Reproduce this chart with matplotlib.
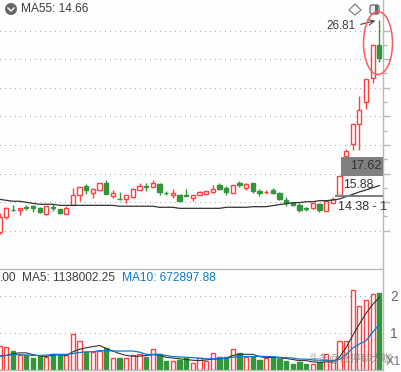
import matplotlib
matplotlib.use('Agg')
import matplotlib.pyplot as plt
from matplotlib.patches import Ellipse, FancyBboxPatch, Polygon, Rectangle, Circle

opens = [12.74,13.72,14.20,14.16,14.36,14.45,14.29,13.94,14.36,14.22,13.94,14.49,15.15,15.77,15.33,15.53,15.97,15.13,14.93,14.93,
         15.07,15.53,15.77,15.73,15.91,15.33,15.20,15.15,15.18,15.00,15.20,15.22,15.40,15.86,15.66,15.33,15.97,15.66,15.97,15.47,
         15.35,15.51,15.31,14.84,14.62,14.51,14.29,14.34,14.56,14.14,14.67,15.20,17.75,18.54,19.87,21.33,22.93,25.12]
closes = [13.72,14.31,14.16,14.29,14.29,14.31,14.05,14.45,14.29,13.98,14.29,15.15,15.69,15.53,15.55,15.95,15.24,15.29,14.89,15.15,
          15.55,15.75,15.73,15.95,15.40,15.29,15.29,14.80,15.13,15.15,15.38,15.42,15.55,15.55,15.35,15.82,15.86,15.89,15.47,15.29,
          15.40,15.31,14.91,14.62,14.53,14.20,14.25,14.62,14.18,14.76,14.93,16.42,18.10,19.87,20.80,22.86,25.12,24.30]
highs = [13.96,14.40,14.51,14.29,14.51,14.51,14.40,14.45,14.56,14.22,14.47,15.64,15.69,15.91,15.64,15.95,16.17,15.51,15.38,15.15,
         15.66,15.97,15.97,16.17,15.95,15.44,15.58,15.24,15.58,15.15,15.47,15.42,15.86,15.95,15.77,15.82,16.11,15.95,15.97,15.60,
         15.53,15.64,15.35,15.04,14.71,14.62,14.40,14.67,14.62,14.84,15.02,16.42,18.23,19.87,21.76,22.86,25.12,26.81]
lows = [12.61,13.58,14.11,13.85,14.18,14.05,13.98,13.85,14.09,13.91,13.94,14.49,14.78,15.24,14.98,15.44,15.24,14.98,14.87,14.62,
        14.98,15.53,15.46,15.73,15.18,15.18,14.98,14.80,15.13,14.78,15.20,15.22,15.33,15.51,15.18,15.33,15.73,15.51,15.29,15.13,
        15.24,15.24,14.84,14.47,14.45,14.07,14.14,14.22,14.05,14.14,14.62,15.20,17.75,18.17,18.17,20.91,22.60,24.02]
ma55 = [14.89,14.82,14.76,14.76,14.69,14.62,14.56,14.56,14.56,14.49,14.49,14.49,14.49,14.49,14.49,14.49,14.49,14.49,14.43,14.43,
        14.43,14.43,14.43,14.43,14.36,14.36,14.36,14.29,14.29,14.29,14.29,14.29,14.29,14.29,14.36,14.36,14.36,14.36,14.40,14.40,
        14.40,14.47,14.54,14.60,14.67,14.67,14.73,14.73,14.80,14.80,14.84,14.91,15.07,15.22,15.38,15.51,15.66,15.80]
vols = [.64,.62,.49,.38,.38,.32,.36,.35,.41,.38,.38,.95,.76,.48,.48,.51,.57,.32,.30,.32,.39,.42,.33,.56,.41,.22,.24,.27,.32,.18,.31,
        .24,.45,.34,.34,.56,.45,.33,.33,.27,.32,.32,.28,.24,.16,.19,.14,.16,.20,.41,.26,.78,.76,2.15,1.72,1.88,2.03,2.08]
vol_ma5 = [.36,.38,.43,.45,.45,.40,.37,.35,.39,.40,.38,.48,.55,.59,.62,.65,.57,.50,.43,.38,.36,.36,.38,.40,.39,.33,.31,.29,.27,.25,.24,
           .26,.28,.29,.31,.38,.41,.41,.41,.35,.32,.33,.31,.30,.27,.24,.24,.21,.19,.21,.20,.33,.59,.92,1.23,1.52,1.76,1.95]
vol_ma10 = [.36,.38,.40,.40,.39,.38,.38,.39,.41,.41,.41,.43,.46,.48,.48,.51,.51,.50,.50,.50,.50,.47,.41,.41,.41,.38,.35,.34,.33,.32,.31,
            .29,.29,.29,.31,.33,.35,.35,.35,.36,.35,.35,.33,.32,.31,.28,.28,.26,.25,.25,.24,.27,.40,.58,.69,.78,1.01,1.22]
price_grid = [12.8,14.7,16.6,18.5,20.4,22.3,24.2,26.1]
price_minor = [13.75,15.65,17.55,19.45,21.35,23.25,25.15]
vol_ticks = [1,2]
vol_labels = ['1','2']

RED = '#ff4040'
GREEN = '#33963b'
GRID = '#a8a8a8'
AXIS = '#b8b8b8'
TEXT = '#3c3c3c'
W, H = 401, 372

plt.rcParams['font.family'] = ['Liberation Sans', 'Noto Sans CJK SC', 'DejaVu Sans']
fig = plt.figure(figsize=(W / 100, H / 100), dpi=100, facecolor='#fefefe')


def fx(x):
    return x / W


def fy(y):
    return 1 - y / H


ax = fig.add_axes([0, fy(269), 383 / W, 269 / H])
vx = fig.add_axes([0, fy(369.5), 383 / W, 100.5 / H])
for a in (ax, vx):
    a.set_facecolor('#fefefe')
    a.set_xlim(0.045, 57.55)
    a.set_xticks([])
    for s in a.spines.values():
        s.set_visible(False)
    a.spines['right'].set_visible(True)
    a.spines['right'].set_color(AXIS)
    a.spines['right'].set_linewidth(1.0)
    a.spines['top'].set_visible(True)
    a.spines['top'].set_color(AXIS)
    a.spines['top'].set_linewidth(1.0)
vx.spines['bottom'].set_visible(True)
vx.spines['bottom'].set_color(AXIS)
vx.spines['bottom'].set_linewidth(1.0)
ax.spines['top'].set_visible(False)

ax.set_ylim(10.26, 28.13)
vx.set_ylim(0, 2.72)

for g in price_grid:
    ax.axhline(g, color=GRID, lw=0.72, ls=(0, (1, 5)), antialiased=False, zorder=1)
for g in vol_ticks:
    vx.axhline(g, color=GRID, lw=0.72, ls=(0, (1, 5)), antialiased=False, zorder=1)

xs = list(range(len(opens)))
for i in xs:
    up = closes[i] >= opens[i]
    col = RED if up else GREEN
    ax.vlines(i, lows[i], highs[i], color=col, lw=1.0, zorder=2)
    bottom = min(opens[i], closes[i])
    height = abs(closes[i] - opens[i])
    ax.bar(i, height, bottom=bottom, width=0.64, facecolor='white' if up else col,
           edgecolor=col, linewidth=1.0, zorder=3)
ax.plot(xs, ma55, color='#333333', lw=0.9, zorder=4)

for i in xs:
    up = closes[i] >= opens[i]
    col = RED if up else GREEN
    vx.bar(i, vols[i], width=0.64, facecolor='white' if up else col, edgecolor=col, linewidth=1.0, zorder=2)
vx.plot(xs, vol_ma5, color='#333333', lw=0.8, zorder=3)
vx.plot(xs, vol_ma10, color='#0a78d2', lw=0.9, zorder=4)

ax.yaxis.tick_right()
ax.set_yticks(price_grid, [str(round(v)) for v in price_grid])
ax.set_yticks(price_minor, minor=True)
ax.tick_params(axis='y', which='major', length=5, width=1, color=AXIS, labelcolor='#666666', labelsize=9, pad=11)
ax.tick_params(axis='y', which='minor', length=3, width=1, color=AXIS)
vx.yaxis.tick_right()
vx.set_yticks(vol_ticks, vol_labels)
vx.tick_params(axis='y', length=0, labelcolor='#666666', labelsize=10, pad=5)

# overlay in pixel coords
ov = fig.add_axes([0, 0, 1, 1], facecolor='none')
ov.set_xlim(0, W)
ov.set_ylim(H, 0)
ov.axis('off')

ov.add_patch(Rectangle((341, 157), 42, 19, facecolor='#808080', edgecolor='none', zorder=5))
ov.add_patch(Rectangle((335, 195), 48, 2, facecolor='#808080', edgecolor='none', zorder=5))
ov.add_patch(Ellipse((378, 43), 29, 63, facecolor='none', edgecolor='#ff5a5a', lw=1.1, zorder=6))
ov.add_patch(Circle((11, 9), 6, facecolor='#666666', edgecolor='none'))
ov.plot([8, 11, 14], [8, 11, 8], color='white', lw=1)
ov.add_patch(Polygon([(355, 4), (361, 10), (355, 15), (349, 10)], facecolor='white', edgecolor='#777777', lw=0.8))
ov.add_patch(FancyBboxPatch((370, 5), 9, 9, boxstyle='round,pad=0,rounding_size=2', facecolor='#eeeeee', edgecolor='#777777', lw=1))
ov.add_patch(Rectangle((375, 5), 3, 9, facecolor='#666666', edgecolor='none'))
ov.annotate('', xy=(378, 20), xytext=(358, 25), arrowprops=dict(arrowstyle='->', color='#444444', lw=0.8))

ov.text(21, 9.5, 'MA55: 14.66', fontsize=8.6, color=TEXT, va='center', ha='left')
ov.text(326, 26, '26.81', fontsize=8.4, color=TEXT, va='center', ha='left')
ov.text(350, 166, '17.62', fontsize=9, color='#333333', va='center', ha='left', zorder=7)
ov.text(343, 185, '15.88', fontsize=8.8, color='#333333', va='center', ha='left', zorder=7)
ov.text(338, 207, '14.38 - 1', fontsize=9, color='#333333', va='center', ha='left', zorder=7)
ov.text(0, 278, '.00', fontsize=8.6, color=TEXT, va='center', ha='left')
ov.text(22, 278, 'MA5: 1138002.25', fontsize=8.6, color=TEXT, va='center', ha='left')
ov.text(122, 278, 'MA10: 672897.88', fontsize=8.6, color='#0a78d2', va='center', ha='left')
ov.text(386, 362, 'X1', fontsize=9, color='#777777', va='center', ha='left')
ov.text(308, 358, '头条@涨停聊大咖', fontsize=7.6, color='#777777', alpha=0.75, va='center', ha='left', zorder=8)

fig.savefig('out.png', dpi=100, facecolor=fig.get_facecolor())
